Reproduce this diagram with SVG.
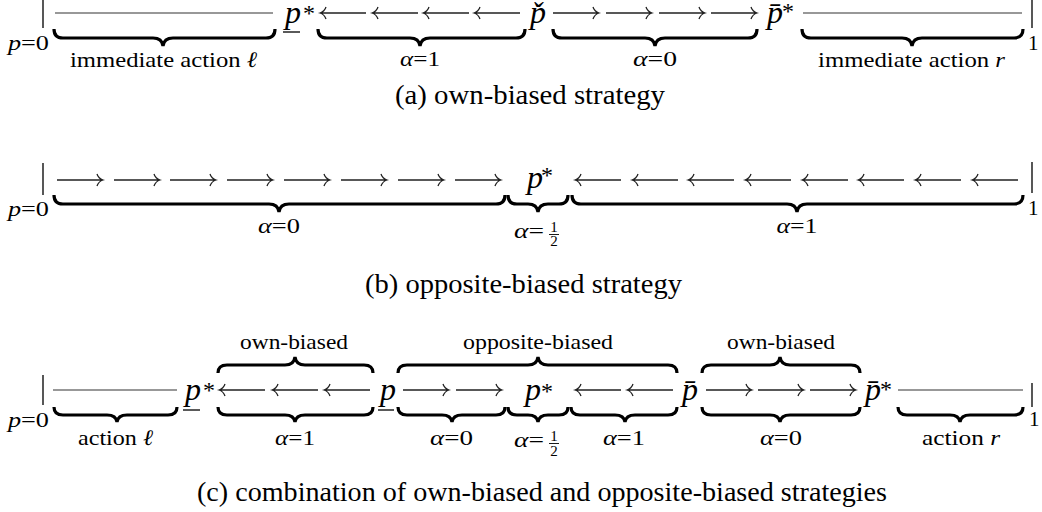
<svg xmlns="http://www.w3.org/2000/svg" width="1042" height="512" viewBox="0 0 1042 512">
<style>
text{font-family:"Liberation Serif","Times New Roman",serif;fill:#000}
.lbl{font-size:22px;text-anchor:middle}
.cap{font-size:27px;text-anchor:middle}
.m{font-size:32px;font-style:italic}
.st{font-size:24px}
.end{font-size:21px}
.fr{font-size:15px;text-anchor:middle}
.it{font-style:italic}
.brace{fill:none;stroke:#000;stroke-width:3.2;stroke-linejoin:miter}
.arr{fill:none;stroke:#222;stroke-width:1.3}
.ln{stroke:#333;stroke-width:1.2}
.vb{stroke:#111;stroke-width:1.4}
.ul{stroke:#000;stroke-width:1.3}
.fb{stroke:#000;stroke-width:0.9}
</style>
<defs>
<path id="ra" d="M0,0 H46 M40,-6 Q41.5,-1.5 46,0 Q41.5,1.5 40,6"/>
<path id="la" d="M46,0 H0 M6,-6 Q4.5,-1.5 0,0 Q4.5,1.5 6,6"/>
</defs>

<!-- Panel (a) -->
<g id="panel-a">
  <g id="a-p0">
    <line class="vb" x1="43" y1="0" x2="43" y2="28"/>
    <text class="end" x="8" y="50" textLength="41" lengthAdjust="spacingAndGlyphs"><tspan class="it">p</tspan>=0</text>
  </g>
  <g id="a-pstar-under">
    <text class="m" x="285" y="23">p</text>
    <line class="ul" x1="283" y1="32" x2="300" y2="32"/>
    <text class="st" x="303" y="21">*</text>
  </g>
  <g id="a-pcheck">
    <text class="m" x="530" y="23">p&#x30C;</text>
  </g>
  <g id="a-pstar-bar">
    <text class="m" x="767" y="23">p&#x304;</text>
    <text class="st" x="782" y="19">*</text>
  </g>
  <g id="a-p1">
    <line class="vb" x1="1032" y1="0" x2="1032" y2="28"/>
    <text class="end" x="1028" y="50">1</text>
  </g>
  <g id="a-connectors">
    <line class="ln" x1="55" y1="13" x2="273" y2="13"/>
    <line class="ln" x1="803" y1="13" x2="1022" y2="13"/>
    <use href="#la" class="arr" x="320" y="13"/>
    <use href="#la" class="arr" x="372" y="13"/>
    <use href="#la" class="arr" x="423" y="13"/>
    <use href="#la" class="arr" x="474" y="13"/>
    <use href="#ra" class="arr" x="553" y="13"/>
    <use href="#ra" class="arr" x="606" y="13"/>
    <use href="#ra" class="arr" x="659" y="13"/>
    <use href="#ra" class="arr" x="711" y="13"/>
    <path class="brace" d="M54,29 Q54,38 63,38 H153 Q162,38 163,46 Q164,38 173,38 H266 Q275,38 275,29"/>
    <path class="brace" d="M318,29 Q318,38 327,38 H410 Q419,38 420,46 Q421,38 430,38 H516 Q525,38 525,29"/>
    <path class="brace" d="M553,29 Q553,38 562,38 H645 Q654,38 655,46 Q656,38 665,38 H748 Q757,38 757,29"/>
    <path class="brace" d="M802,29 Q802,38 811,38 H902 Q911,38 912,46 Q913,38 922,38 H1014 Q1023,38 1023,29"/>
  </g>
  <g id="a-labels">
    <text class="lbl" x="163.5" y="67" textLength="187" lengthAdjust="spacingAndGlyphs">immediate action <tspan class="it">ℓ</tspan></text>
    <text class="lbl" x="420" y="66" textLength="40" lengthAdjust="spacingAndGlyphs"><tspan class="it">α</tspan>=1</text>
    <text class="lbl" x="655" y="66" textLength="44" lengthAdjust="spacingAndGlyphs"><tspan class="it">α</tspan>=0</text>
    <text class="lbl" x="911.5" y="67" textLength="187" lengthAdjust="spacingAndGlyphs">immediate action <tspan class="it">r</tspan></text>
  </g>
  <text class="cap" x="530" y="104" textLength="270" lengthAdjust="spacingAndGlyphs">(a) own-biased strategy</text>
</g>

<!-- Panel (b) -->
<g id="panel-b">
  <g id="b-p0">
    <line class="vb" x1="43" y1="163" x2="43" y2="195"/>
    <text class="end" x="8" y="216" textLength="41" lengthAdjust="spacingAndGlyphs"><tspan class="it">p</tspan>=0</text>
  </g>
  <g id="b-pstar">
    <text class="m" x="527" y="188">p</text>
    <text class="st" x="541" y="183">*</text>
  </g>
  <g id="b-p1">
    <line class="vb" x1="1032" y1="162" x2="1032" y2="193"/>
    <text class="end" x="1028" y="215">1</text>
  </g>
  <g id="b-connectors">
    <use href="#ra" class="arr" x="57" y="180"/>
    <use href="#ra" class="arr" x="114" y="180"/>
    <use href="#ra" class="arr" x="170" y="180"/>
    <use href="#ra" class="arr" x="227" y="180"/>
    <use href="#ra" class="arr" x="284" y="180"/>
    <use href="#ra" class="arr" x="341" y="180"/>
    <use href="#ra" class="arr" x="398" y="180"/>
    <use href="#ra" class="arr" x="455" y="180"/>
    <use href="#la" class="arr" x="575" y="180"/>
    <use href="#la" class="arr" x="632" y="180"/>
    <use href="#la" class="arr" x="688" y="180"/>
    <use href="#la" class="arr" x="745" y="180"/>
    <use href="#la" class="arr" x="802" y="180"/>
    <use href="#la" class="arr" x="858" y="180"/>
    <use href="#la" class="arr" x="915" y="180"/>
    <use href="#la" class="arr" x="972" y="180"/>
    <path class="brace" d="M54,195 Q54,204 63,204 H269 Q278,204 279,212 Q280,204 289,204 H496 Q505,204 505,195"/>
    <path class="brace" d="M508,195 Q508,204 517,204 H528 Q537,204 538,212 Q539,204 548,204 H559 Q568,204 568,195"/>
    <path class="brace" d="M572,195 Q572,204 581,204 H787 Q796,204 797,212 Q798,204 807,204 H1014 Q1023,204 1023,195"/>
  </g>
  <g id="b-labels">
    <text class="lbl" x="279" y="233" textLength="42" lengthAdjust="spacingAndGlyphs"><tspan class="it">α</tspan>=0</text>
    <text class="lbl" x="529" y="238" textLength="30" lengthAdjust="spacingAndGlyphs"><tspan class="it">α</tspan>=</text>
    <text class="fr" x="554" y="232">1</text>
    <line class="fb" x1="549" y1="234.5" x2="559" y2="234.5"/>
    <text class="fr" x="554" y="246">2</text>
    <text class="lbl" x="797" y="233" textLength="41" lengthAdjust="spacingAndGlyphs"><tspan class="it">α</tspan>=1</text>
  </g>
  <text class="cap" x="523.5" y="293" textLength="317" lengthAdjust="spacingAndGlyphs">(b) opposite-biased strategy</text>
</g>

<!-- Panel (c) -->
<g id="panel-c">
  <g id="c-p0">
    <line class="vb" x1="43" y1="375" x2="43" y2="405"/>
    <text class="end" x="8" y="427" textLength="41" lengthAdjust="spacingAndGlyphs"><tspan class="it">p</tspan>=0</text>
  </g>
  <g id="c-pstar-under">
    <text class="m" x="185" y="399.5">p</text>
    <line class="ul" x1="183" y1="410" x2="200" y2="410"/>
    <text class="st" x="203" y="398">*</text>
  </g>
  <g id="c-p-under">
    <text class="m" x="380" y="399.5">p</text>
    <line class="ul" x1="378" y1="410" x2="394" y2="410"/>
  </g>
  <g id="c-pstar">
    <text class="m" x="525" y="399.5">p</text>
    <text class="st" x="541" y="399">*</text>
  </g>
  <g id="c-p-bar">
    <text class="m" x="682" y="399.5">p&#x304;</text>
  </g>
  <g id="c-pstar-bar">
    <text class="m" x="865" y="399.5">p&#x304;</text>
    <text class="st" x="880" y="397">*</text>
  </g>
  <g id="c-p1">
    <line class="vb" x1="1032" y1="383" x2="1032" y2="407"/>
    <text class="end" x="1029" y="426">1</text>
  </g>
  <g id="c-connectors">
    <line class="ln" x1="53" y1="390" x2="177" y2="390"/>
    <line class="ln" x1="898" y1="390" x2="1023" y2="390"/>
    <use href="#la" class="arr" x="219" y="390"/>
    <use href="#la" class="arr" x="272" y="390"/>
    <use href="#la" class="arr" x="324" y="390"/>
    <use href="#ra" class="arr" x="403" y="390"/>
    <use href="#ra" class="arr" x="456" y="390"/>
    <use href="#la" class="arr" x="575" y="390"/>
    <use href="#la" class="arr" x="627" y="390"/>
    <use href="#ra" class="arr" x="706" y="390"/>
    <use href="#ra" class="arr" x="758" y="390"/>
    <use href="#ra" class="arr" x="810" y="390"/>
    <!-- lower braces -->
    <path class="brace" d="M54,407 Q54,415 63,415 H107 Q116,415 117,422 Q118,415 127,415 H168 Q177,415 177,407"/>
    <path class="brace" d="M218,407 Q218,415 227,415 H285 Q294,415 295,422 Q296,415 305,415 H364 Q373,415 373,407"/>
    <path class="brace" d="M398,407 Q398,415 407,415 H442 Q451,415 452,422 Q453,415 462,415 H496 Q505,415 505,407"/>
    <path class="brace" d="M508,407 Q508,415 517,415 H528 Q537,415 538,422 Q539,415 548,415 H559 Q568,415 568,407"/>
    <path class="brace" d="M571,407 Q571,415 580,415 H615 Q624,415 625,422 Q626,415 635,415 H668 Q677,415 677,407"/>
    <path class="brace" d="M702,407 Q702,415 711,415 H770 Q779,415 780,422 Q781,415 790,415 H851 Q860,415 860,407"/>
    <path class="brace" d="M898,407 Q898,415 907,415 H950 Q959,415 960,422 Q961,415 970,415 H1014 Q1023,415 1023,407"/>
    <!-- upper braces -->
    <path class="brace" d="M218,373 Q218,365 227,365 H285 Q294,365 295,357 Q296,365 305,365 H364 Q373,365 373,373"/>
    <path class="brace" d="M398,373 Q398,365 407,365 H528 Q537,365 538,357 Q539,365 548,365 H668 Q677,365 677,373"/>
    <path class="brace" d="M702,373 Q702,365 711,365 H770 Q779,365 780,357 Q781,365 790,365 H851 Q860,365 860,373"/>
  </g>
  <g id="c-labels">
    <text class="lbl" x="294" y="349" textLength="108" lengthAdjust="spacingAndGlyphs">own-biased</text>
    <text class="lbl" x="538" y="349" textLength="150" lengthAdjust="spacingAndGlyphs">opposite-biased</text>
    <text class="lbl" x="781" y="349" textLength="108" lengthAdjust="spacingAndGlyphs">own-biased</text>
    <text class="lbl" x="115.5" y="445" textLength="75" lengthAdjust="spacingAndGlyphs">action <tspan class="it">ℓ</tspan></text>
    <text class="lbl" x="295" y="445" textLength="40" lengthAdjust="spacingAndGlyphs"><tspan class="it">α</tspan>=1</text>
    <text class="lbl" x="451.5" y="445" textLength="43" lengthAdjust="spacingAndGlyphs"><tspan class="it">α</tspan>=0</text>
    <text class="lbl" x="529" y="447" textLength="30" lengthAdjust="spacingAndGlyphs"><tspan class="it">α</tspan>=</text>
    <text class="fr" x="554" y="441">1</text>
    <line class="fb" x1="549" y1="443.5" x2="559" y2="443.5"/>
    <text class="fr" x="554" y="456">2</text>
    <text class="lbl" x="624" y="445" textLength="42" lengthAdjust="spacingAndGlyphs"><tspan class="it">α</tspan>=1</text>
    <text class="lbl" x="781" y="445" textLength="42" lengthAdjust="spacingAndGlyphs"><tspan class="it">α</tspan>=0</text>
    <text class="lbl" x="961" y="445" textLength="78" lengthAdjust="spacingAndGlyphs">action <tspan class="it">r</tspan></text>
  </g>
  <text class="cap" x="542" y="501" textLength="690" lengthAdjust="spacingAndGlyphs">(c) combination of own-biased and opposite-biased strategies</text>
</g>
</svg>
